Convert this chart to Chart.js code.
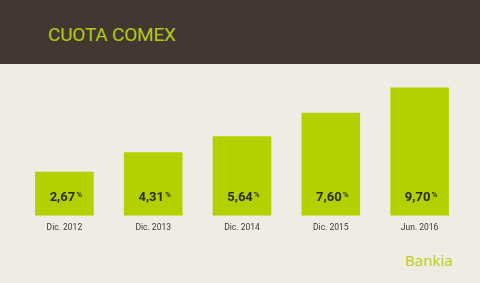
<!DOCTYPE html>
<html>
<head>
<meta charset="utf-8">
<script src="https://cdn.jsdelivr.net/npm/chart.js@4/dist/chart.umd.min.js"></script>
<style>
  html, body { margin: 0; padding: 0; }
  body { width: 480px; height: 283px; background: #efede3; position: relative; overflow: hidden; font-family: Roboto, sans-serif; }
  #header { position: absolute; left: 0; top: 0; width: 480px; height: 64px; background: #433831; }
  #title { position: absolute; left: 48px; top: 23px; font-size: 19px; color: #b3ca1a; letter-spacing: -0.2px; }
  #logo { position: absolute; left: 405px; top: 250px; font-size: 15px; color: #b8cf2a; font-family: "Noto Sans", sans-serif; }
  #wrap { position: absolute; left: 0; top: 0; width: 480px; height: 283px; }
</style>
</head>
<body>
<div id="header"><div id="title">CUOTA COMEX</div></div>
<div id="logo">Bankia</div>
<div id="wrap"><canvas id="chart"></canvas></div>
<script>
// Datos
const categorias = ['Dic. 2012', 'Dic. 2013', 'Dic. 2014', 'Dic. 2015', 'Jun. 2016'];
const cuota = [2.67, 4.31, 5.64, 7.60, 9.70];

// Etiquetas de valor dentro de las barras
const etiquetas = {
    id: 'etiquetas',
    afterDatasetsDraw(chart) {
        const ctx = chart.ctx;
        const meta = chart.getDatasetMeta(0);
        ctx.save();
        ctx.fillStyle = '#2e2a20';
        ctx.textBaseline = 'alphabetic';
        meta.data.forEach((bar, i) => {
            const num = cuota[i].toFixed(2).replace('.', ',');
            ctx.font = 'bold 13px Roboto';
            const w1 = ctx.measureText(num).width;
            ctx.font = 'bold 8px Roboto';
            const w2 = ctx.measureText('%').width;
            const x0 = bar.x - (w1 + w2) / 2 + 1;
            const y = bar.base - 15;
            ctx.font = 'bold 13px Roboto';
            ctx.textAlign = 'left';
            ctx.fillText(num, x0, y);
            ctx.font = 'bold 8px Roboto';
            ctx.fillText('%', x0 + w1 + 1, y - 4);
        });
        ctx.restore();
    }
};

const ctx = document.getElementById('chart').getContext('2d');
new Chart(ctx, {
    type: 'bar',
    data: {
        labels: categorias,
        datasets: [{
            data: cuota,
            base: -1,
            backgroundColor: '#b5d000',
            categoryPercentage: 1,
            barPercentage: 0.66,
        }],
    },
    options: {
        responsive: true,
        maintainAspectRatio: false,
        animation: false,
        layout: { padding: { left: 20, right: 16, top: 60, bottom: 51 } },
        plugins: {
            legend: { display: false },
            tooltip: { enabled: false },
        },
        scales: {
            x: {
                grid: { display: false },
                border: { display: false },
                ticks: { color: '#3a3a38', font: { family: 'Roboto', size: 8.5 }, padding: -1 },
            },
            y: {
                display: false,
                min: -1,
                max: 12,
            },
        },
    },
    plugins: [etiquetas],
});
</script>
</body>
</html>
